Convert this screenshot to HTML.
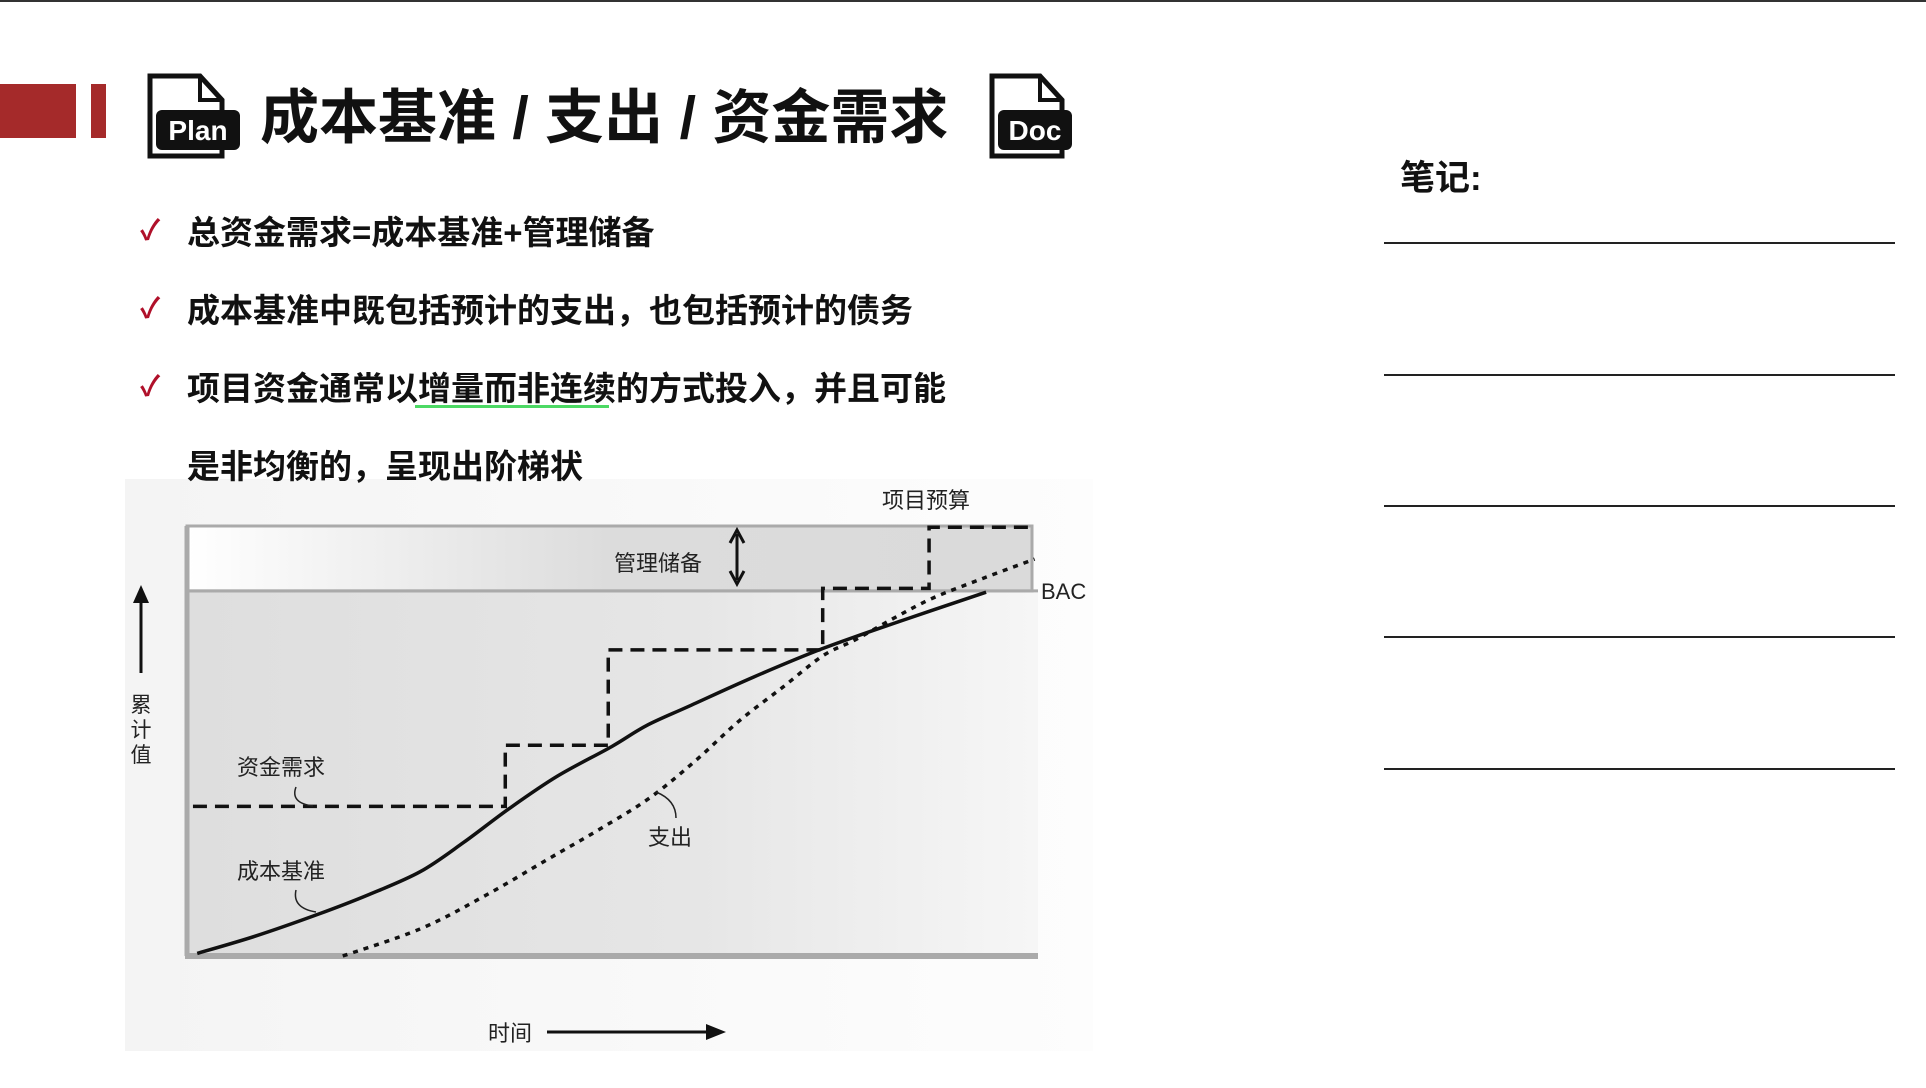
<!DOCTYPE html>
<html><head><meta charset="utf-8">
<style>
html,body{margin:0;padding:0;background:#fff;}
body{width:1926px;height:1088px;overflow:hidden;position:relative;font-family:"Liberation Sans","Noto Sans CJK SC",sans-serif;}
svg{position:absolute;left:0;top:0;}
</style></head>
<body>
<svg id="s" width="1926" height="1088" viewBox="0 0 1926 1088" xmlns="http://www.w3.org/2000/svg">
<defs>
<linearGradient id="gBg" x1="0" x2="1" y1="0" y2="0"><stop offset="0" stop-color="#f4f4f4"/><stop offset="1" stop-color="#fdfdfd"/></linearGradient>
<linearGradient id="gPlot" x1="0" x2="1"><stop offset="0" stop-color="#dedede"/><stop offset="0.6" stop-color="#e6e6e6"/><stop offset="1" stop-color="#f6f6f6"/></linearGradient>
<linearGradient id="gBand" x1="0" x2="1"><stop offset="0" stop-color="#ffffff"/><stop offset="0.5" stop-color="#dcdcdc"/><stop offset="1" stop-color="#dadada"/></linearGradient>
</defs>
<rect x="125" y="479" width="968" height="572" fill="url(#gBg)"/>
<rect x="0" y="0" width="1926" height="2" fill="#333"/>
<rect x="0" y="84" width="76" height="54" fill="#a52a2a"/>
<rect x="91" y="84" width="15" height="54" fill="#a52a2a"/>
<g>
<path d="M150 76 H200 L222 100 V156 H150 Z" fill="#fff" stroke="#111" stroke-width="5"/>
<path d="M200 76 V100 H222" fill="none" stroke="#111" stroke-width="4"/>
<rect x="156" y="110" width="84" height="40" rx="6" fill="#111"/>
<text x="198" y="140" font-size="28" font-weight="bold" fill="#fff" text-anchor="middle">Plan</text>
</g>
<text x="260" y="138" font-size="59" font-weight="bold" fill="#111">成本基准 / 支出 / 资金需求</text>
<g>
<path d="M992 76 H1040 L1062 100 V156 H992 Z" fill="#fff" stroke="#111" stroke-width="5"/>
<path d="M1040 76 V100 H1062" fill="none" stroke="#111" stroke-width="4"/>
<rect x="998" y="110" width="74" height="40" rx="6" fill="#111"/>
<text x="1035" y="140" font-size="28" font-weight="bold" fill="#fff" text-anchor="middle">Doc</text>
</g>
<g font-size="33" font-weight="bold" fill="#111">
<text x="140" y="240" fill="#b0102a" font-size="28">✓</text>
<text x="187" y="244">总资金需求=成本基准+管理储备</text>
<text x="140" y="318" fill="#b0102a" font-size="28">✓</text>
<text x="187" y="322">成本基准中既包括预计的支出，也包括预计的债务</text>
<text x="140" y="396" fill="#b0102a" font-size="28">✓</text>
<text x="187" y="400">项目资金通常以增量而非连续的方式投入，并且可能</text>
<text x="187" y="478">是非均衡的，呈现出阶梯状</text>
</g>
<rect x="415" y="405" width="194" height="3" fill="#4cd964"/>
<text x="1400" y="190" font-size="35" font-weight="bold" fill="#111">笔记:</text>
<g stroke="#222" stroke-width="2">
<line x1="1384" x2="1895" y1="243" y2="243"/><line x1="1384" x2="1895" y1="375" y2="375"/><line x1="1384" x2="1895" y1="506" y2="506"/><line x1="1384" x2="1895" y1="637" y2="637"/><line x1="1384" x2="1895" y1="769" y2="769"/>
</g>
<g id="chart"></g>
</svg>
<script>
// data units: time 0-100, cumulative value 0-100 (100 = project budget)
const baselineT = [1.2,8.0,15.4,21.4,27.4,32.5,37.8,43.5,49.9,54.0,59.0,66.5,74.7,84.0,93.9];
const baselineV = [0.6,4.6,9.7,14.3,19.6,26.4,34.2,41.8,48.7,53.6,58.1,64.8,71.5,78.0,84.6];
const expendT = [18.3,27.4,35.0,42.4,48.5,54.4,59.8,64.9,70.0,74.7,78.5,83.0,87.6,93.5,99.6];
const expendV = [0,6.3,14.0,22.5,29.5,36.8,45.5,54.7,62.5,69.8,73.5,78.5,83.2,87.8,92.3];
const fundingT = [0.7,37.4,49.5,74.7,87.2,99.3];
const fundingV = [34.8,49.0,71.2,85.5,99.7];
const bacValue = 84.9;
const budgetValue = 100;

const X0=187,X1=1038,Y0=956,Y1=526;
const sx=t=>X0+(X1-X0)*t/100;
const sy=v=>Y0-(Y0-Y1)*v/100;
const NS='http://www.w3.org/2000/svg';
const g=document.getElementById('chart');
function mk(tag,attrs){const e=document.createElementNS(NS,tag);for(const k in attrs)e.setAttribute(k,attrs[k]);g.appendChild(e);return e;}

let e;
e=mk('rect',{x:X0,y:sy(bacValue),width:X1-X0,height:Y0-sy(bacValue),fill:'url(#gPlot)'});


e=mk('rect',{x:X0,y:sy(budgetValue),width:X1-X0-6,height:sy(bacValue)-sy(budgetValue),fill:'url(#gBand)',stroke:'#aaa','stroke-width':3});


e=mk('line',{x1:X0,x2:X1,y1:sy(bacValue),y2:sy(bacValue),stroke:'#aaa','stroke-width':3});


e=mk('line',{x1:X0,x2:X0,y1:sy(budgetValue),y2:Y0,stroke:'#aaa','stroke-width':5});


e=mk('line',{x1:X0-2,x2:X1,y1:Y0,y2:Y0,stroke:'#aaa','stroke-width':6});



let d='M'+sx(fundingT[0])+' '+sy(fundingV[0]);
for(let i=0;i<fundingV.length;i++){d+=' H'+sx(fundingT[i+1]);if(i+1<fundingV.length)d+=' V'+sy(fundingV[i+1]);}
e=mk('path',{d:d,fill:'none',stroke:'#111','stroke-width':3.5,'stroke-dasharray':'14 8'});



function smooth(T,V){
  const P=T.map((t,i)=>[sx(t),sy(V[i])]);
  let p='M'+P[0][0]+' '+P[0][1];
  for(let i=0;i<P.length-1;i++){
    const a=P[i-1]||P[i],b=P[i],c=P[i+1],n=P[i+2]||c;
    const c1=[b[0]+(c[0]-a[0])/6,b[1]+(c[1]-a[1])/6],c2=[c[0]-(n[0]-b[0])/6,c[1]-(n[1]-b[1])/6];
    p+=' C'+c1[0]+' '+c1[1]+' '+c2[0]+' '+c2[1]+' '+c[0]+' '+c[1];
  }
  return p;
}
e=mk('path',{d:smooth(expendT,expendV),fill:'none',stroke:'#111','stroke-width':3.5,'stroke-dasharray':'5 6','stroke-linejoin':'round'});


e=mk('path',{d:smooth(baselineT,baselineV),fill:'none',stroke:'#111','stroke-width':3.5,'stroke-linejoin':'round'});



function txt(x,y,s,name,size,anchor){const t=mk('text',{x:x,y:y,'font-size':size||22,fill:'#222','text-anchor':anchor||'start'});t.textContent=s;return t;}
txt(882,508,'项目预算','budget-label');
txt(614,571,'管理储备','reserve-label');
txt(1041,599,'BAC','bac-label',22);
txt(237,775,'资金需求','funding-label');
txt(237,879,'成本基准','baseline-label');
txt(648,845,'支出','expenditure-label');
txt(488,1041,'时间','x-axis-title');
const yt=['累','计','值'];
for(let i=0;i<yt.length;i++){txt(141,712+i*25,yt[i],'y-axis-title-char','21','middle');}

e=mk('path',{d:'M296 787 Q290 803 313 806',fill:'none',stroke:'#222','stroke-width':1.5});


e=mk('path',{d:'M296 890 Q292 908 316 912',fill:'none',stroke:'#222','stroke-width':1.5});


e=mk('path',{d:'M656 792 Q676 800 676 818',fill:'none',stroke:'#222','stroke-width':1.5});



e=mk('path',{d:'M737 534 V580 M730 543 L737 530 L744 543 M730 571 L737 584 L744 571',fill:'none',stroke:'#111','stroke-width':3});


e=mk('path',{d:'M141 673 V595',stroke:'#111','stroke-width':3,fill:'none'});


e=mk('path',{d:'M133 603 L141 585 L149 603 Z',fill:'#111'});


e=mk('path',{d:'M547 1032 H712',stroke:'#111','stroke-width':3,fill:'none'});


e=mk('path',{d:'M706 1024 L726 1032 L706 1040 Z',fill:'#111'});


</script>
</body></html>
